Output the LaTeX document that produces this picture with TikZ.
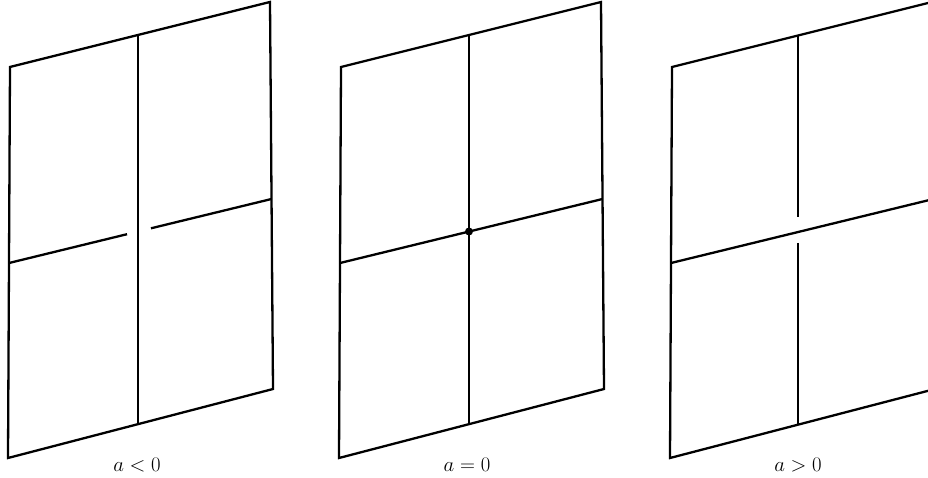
\documentclass[tikz,border=0pt]{standalone}
\begin{document}
\begin{tikzpicture}[x=1pt,y=-1pt,
  edge/.style={line width=2.3pt, line join=miter},
  lab/.style={font=\fontsize{22.5}{27}\selectfont, anchor=base}]
\useasboundingbox (0,0) rectangle (928,478);
\clip (0,0) rectangle (928,478);
\foreach \dx/\n in {0/1,331/2,662/3}{
  \begin{scope}[shift={(\dx,0)}]
    \coordinate (tl\n) at (10,67);
    \coordinate (tr\n) at (270,2);
    \coordinate (br\n) at (273,389);
    \coordinate (bl\n) at (8,458);
    \coordinate (hl\n) at (9,263);
    \coordinate (hr\n) at (271.5,199);
    \draw[edge] (tl\n) -- (tr\n) -- (br\n) -- (bl\n) -- cycle;
  \end{scope}
}
% panel 1: a<0
\coordinate (vt1) at (138,35);
\coordinate (vb1) at (138,424);
\coordinate (g1l) at (127,234.2);
\coordinate (g1r) at (151,228.3);
\draw[edge] (vt1) -- (vb1);
\draw[edge] (hl1) -- (g1l);
\draw[edge] (g1r) -- (hr1);
\node[lab] (l1) at (137,471) {$a<0$};
% panel 2: a=0
\coordinate (vt2) at (469,35);
\coordinate (vb2) at (469,424);
\coordinate (c2) at (469,231.5);
\draw[edge] (vt2) -- (vb2);
\draw[edge] (hl2) -- (hr2);
\fill (c2) circle (4);
\node[lab] (l2) at (467,471) {$a=0$};
% panel 3: a>0
\coordinate (vt3) at (798,35);
\coordinate (vb3) at (798,425);
\coordinate (g3t) at (798,217);
\coordinate (g3b) at (798,243);
\draw[edge] (vt3) -- (g3t);
\draw[edge] (g3b) -- (vb3);
\draw[edge] (hl3) -- (hr3);
\node[lab] (l3) at (798,471) {$a>0$};
\end{tikzpicture}
\end{document}
